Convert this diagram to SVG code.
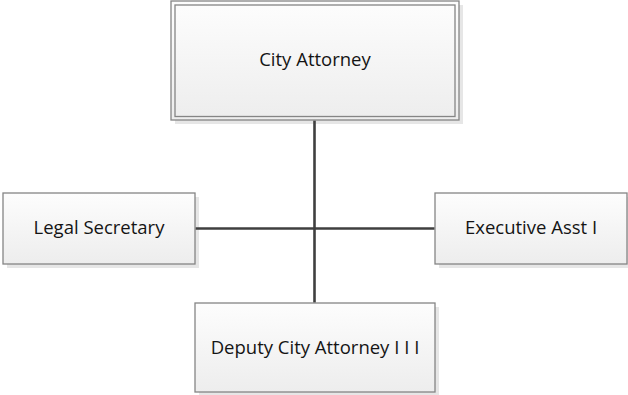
<svg xmlns="http://www.w3.org/2000/svg" width="628" height="395" viewBox="0 0 628 395">
<defs>
<linearGradient id="g" x1="0" y1="0" x2="0" y2="1">
<stop offset="0" stop-color="#fdfdfd"/>
<stop offset="1" stop-color="#ededed"/>
</linearGradient>
</defs>
<style>
.box{fill:url(#g);stroke:#858585;stroke-width:1.3}
.shadow{fill:#e6e6e6}
.inner{fill:none;stroke:#858585;stroke-width:1.3}
.lbl{font-family:"Open Sans","Noto Sans",sans-serif;font-size:18.5px;fill:#141414;text-anchor:middle}
.conn{stroke:#3f3f3f;stroke-width:2.6;fill:none}
</style>
<g id="city-attorney">
<rect class="shadow" x="175" y="5" width="288" height="119"/>
<rect class="box" x="171" y="1" width="288" height="119"/>
<rect class="inner" x="175" y="5" width="280" height="111.5"/>
<text class="lbl" x="315" y="66">City Attorney</text>
</g>
<g id="legal-secretary">
<rect class="shadow" x="7" y="197" width="192" height="71"/>
<rect class="box" x="3" y="193" width="192" height="71"/>
<text class="lbl" x="99" y="234">Legal Secretary</text>
</g>
<g id="executive-asst">
<rect class="shadow" x="439" y="197" width="192" height="71"/>
<rect class="box" x="435" y="193" width="192" height="71"/>
<text class="lbl" x="531" y="234">Executive Asst I</text>
</g>
<g id="deputy-city-attorney">
<rect class="shadow" x="199" y="307" width="240" height="89"/>
<rect class="box" x="195" y="303" width="240" height="89"/>
<text class="lbl" x="315" y="354">Deputy City Attorney I I I</text>
</g>
<g id="connectors">
<line class="conn" x1="314.5" y1="120.7" x2="314.5" y2="302.4"/>
<line class="conn" x1="195.7" y1="228.5" x2="434.4" y2="228.5"/>
</g>
</svg>
